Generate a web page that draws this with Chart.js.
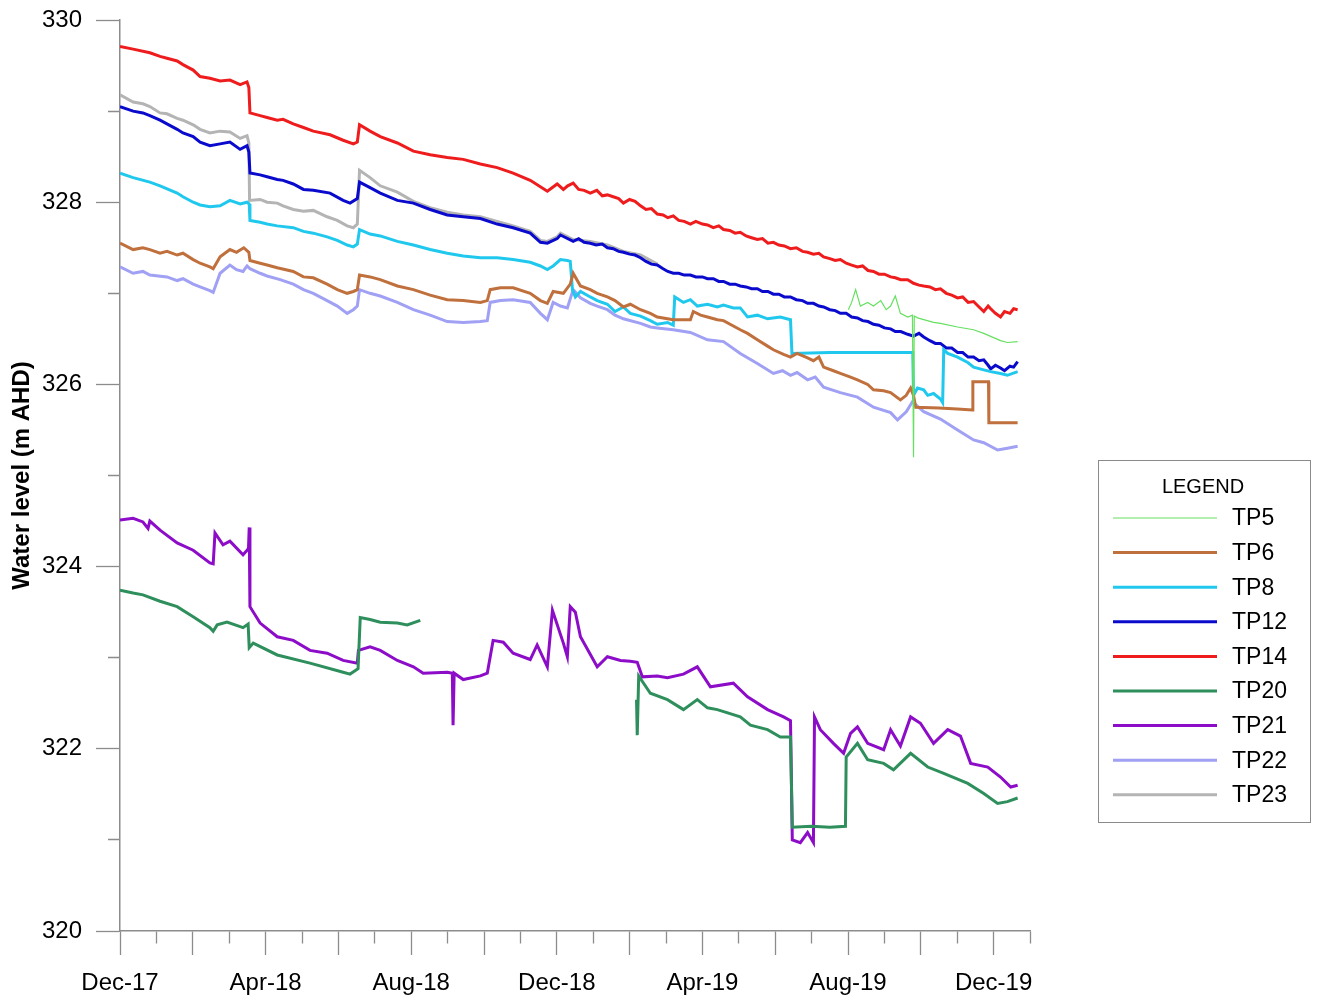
<!DOCTYPE html>
<html>
<head>
<meta charset="utf-8">
<script src="https://cdn.jsdelivr.net/npm/chart.js@4.4.1/dist/chart.umd.min.js"></script>
<style>
  html, body { margin: 0; padding: 0; background: #ffffff; }
  #wrap { width: 1318px; height: 1000px; position: relative; }
</style>
</head>
<body>
<div id="wrap"><canvas id="c" width="1318" height="1000"></canvas></div>
<script>
// ---------- DATA (x = months since Dec-2017, y = water level m AHD) ----------
const seriesNames = ['TP5','TP6','TP8','TP12','TP14','TP20','TP21','TP22','TP23'];
const xTickLabels = ['Dec-17','Apr-18','Aug-18','Dec-18','Apr-19','Aug-19','Dec-19'];
const xLabelEvery = 4;

const tp5X = [20.01,20.10,20.21,20.34,20.54,20.70,20.90,21.05,21.17,21.30,21.44,21.64,21.77,21.80,21.82,21.91,22.35,22.54,23.01,23.45,23.73,24.19,24.38,24.66];
const tp5Y = [326.82,326.90,327.04,326.86,326.90,326.86,326.92,326.82,326.86,326.97,326.78,326.74,326.76,325.20,326.75,326.73,326.68,326.67,326.63,326.60,326.56,326.48,326.46,326.47];

const tp6X = [0,0.36,0.63,0.82,1.10,1.29,1.57,1.73,2.01,2.20,2.47,2.56,2.75,3.02,3.20,3.40,3.54,3.57,3.85,4.04,4.32,4.76,5.04,5.31,5.69,5.97,6.24,6.41,6.52,6.58,6.87,7.15,7.62,8.06,8.52,8.99,9.43,9.90,10.09,10.17,10.45,10.80,11.27,11.55,11.74,11.90,12.18,12.37,12.45,12.65,12.92,13.11,13.39,13.60,13.83,14.02,14.30,14.57,14.76,15.04,15.20,15.67,15.75,15.95,16.14,16.41,16.58,17.04,17.24,17.51,17.79,17.95,18.23,18.42,18.60,18.89,19.05,19.20,19.33,19.60,19.79,20.07,20.26,20.54,20.70,20.98,21.17,21.44,21.60,21.72,21.80,21.86,22.50,23.00,23.42,23.43,23.86,23.87,24.66];
const tp6Y = [327.55,327.48,327.50,327.48,327.44,327.46,327.42,327.44,327.37,327.33,327.29,327.27,327.40,327.48,327.45,327.50,327.45,327.36,327.33,327.31,327.28,327.24,327.18,327.17,327.10,327.04,327.00,327.02,327.04,327.20,327.18,327.15,327.08,327.04,326.98,326.93,326.92,326.90,326.92,327.04,327.06,327.06,327.00,326.92,326.89,327.02,327.00,327.10,327.22,327.08,327.04,327.00,326.96,326.92,326.85,326.88,326.82,326.78,326.74,326.72,326.71,326.71,326.80,326.76,326.74,326.71,326.70,326.60,326.56,326.49,326.42,326.38,326.33,326.30,326.34,326.29,326.26,326.30,326.19,326.15,326.12,326.08,326.05,326.00,325.94,325.93,325.91,325.83,325.88,325.96,325.88,325.75,325.74,325.73,325.72,326.03,326.03,325.58,325.58];

const tp8X = [0,0.36,0.82,1.10,1.57,1.73,2.01,2.20,2.47,2.75,3.02,3.30,3.49,3.55,3.57,3.85,4.04,4.32,4.76,5.04,5.31,5.69,5.97,6.24,6.41,6.52,6.58,6.87,7.15,7.62,8.06,8.52,8.99,9.43,9.90,10.36,10.80,11.27,11.55,11.74,11.90,12.10,12.29,12.37,12.43,12.51,12.65,12.92,13.11,13.39,13.60,13.83,14.02,14.30,14.57,14.76,15.04,15.20,15.24,15.48,15.67,15.86,16.14,16.41,16.58,16.85,17.04,17.24,17.51,17.79,18.14,18.42,18.46,19.50,20.50,21.78,21.80,21.91,22.08,22.19,22.35,22.54,22.60,22.63,22.74,23.01,23.29,23.45,23.73,23.92,24.19,24.38,24.66];
const tp8Y = [328.32,328.27,328.22,328.18,328.10,328.06,328.00,327.97,327.95,327.96,328.02,327.98,328.00,327.98,327.80,327.78,327.76,327.74,327.72,327.68,327.66,327.62,327.58,327.53,327.51,327.54,327.70,327.65,327.63,327.57,327.53,327.48,327.44,327.41,327.39,327.39,327.37,327.34,327.30,327.26,327.30,327.37,327.36,327.35,327.04,326.96,327.02,326.96,326.92,326.88,326.80,326.85,326.78,326.75,326.70,326.66,326.68,326.65,326.96,326.90,326.93,326.86,326.88,326.85,326.87,326.84,326.84,326.74,326.76,326.72,326.74,326.71,326.34,326.35,326.35,326.35,325.88,325.96,325.94,325.88,325.90,325.84,325.80,326.38,326.34,326.30,326.24,326.19,326.16,326.14,326.12,326.10,326.14];

const tp12X = [0,0.36,0.63,0.82,1.10,1.29,1.57,1.73,2.01,2.20,2.47,2.75,3.02,3.30,3.49,3.54,3.57,3.85,4.04,4.32,4.48,4.76,5.04,5.31,5.77,6.13,6.32,6.52,6.58,6.87,7.15,7.62,8.06,8.52,8.99,9.43,9.90,10.36,10.80,11.27,11.55,11.74,12.01,12.10,12.45,12.60,12.75,12.92,13.08,13.25,13.39,13.55,13.70,13.83,14.00,14.15,14.30,14.45,14.60,14.76,14.92,15.05,15.20,15.35,15.50,15.67,15.82,16.00,16.14,16.30,16.45,16.58,16.75,16.90,17.04,17.20,17.35,17.51,17.65,17.80,17.95,18.10,18.25,18.42,18.58,18.75,18.89,19.05,19.20,19.33,19.50,19.65,19.79,19.95,20.10,20.26,20.40,20.55,20.70,20.85,21.00,21.17,21.30,21.45,21.64,21.80,21.95,22.08,22.25,22.40,22.54,22.70,22.85,23.01,23.15,23.30,23.45,23.60,23.73,23.85,23.92,24.05,24.19,24.30,24.45,24.55,24.66];
const tp12Y = [329.05,329.00,328.98,328.95,328.90,328.86,328.80,328.76,328.72,328.66,328.62,328.64,328.66,328.58,328.62,328.55,328.32,328.30,328.28,328.25,328.24,328.20,328.14,328.13,328.10,328.02,327.99,328.04,328.22,328.16,328.10,328.02,327.99,327.92,327.86,327.84,327.82,327.76,327.72,327.66,327.56,327.55,327.60,327.64,327.57,327.60,327.56,327.55,327.53,327.54,327.50,327.49,327.46,327.45,327.43,327.42,327.39,327.35,327.32,327.31,327.27,327.24,327.22,327.22,327.20,327.20,327.18,327.18,327.16,327.16,327.13,327.13,327.10,327.10,327.08,327.07,327.05,327.05,327.02,327.02,326.99,326.99,326.96,326.96,326.93,326.92,326.89,326.89,326.86,326.85,326.82,326.81,326.78,326.78,326.74,326.73,326.70,326.69,326.66,326.65,326.62,326.61,326.58,326.58,326.55,326.53,326.56,326.52,326.48,326.45,326.45,326.40,326.40,326.35,326.35,326.30,326.30,326.26,326.27,326.21,326.17,326.21,326.18,326.15,326.20,326.19,326.25];

const tp14X = [0,0.36,0.82,1.10,1.29,1.57,1.73,2.01,2.20,2.47,2.75,3.02,3.30,3.49,3.54,3.57,3.85,4.04,4.32,4.48,4.76,5.04,5.31,5.77,6.13,6.41,6.52,6.58,6.87,7.15,7.62,8.06,8.52,8.99,9.43,9.90,10.36,10.80,11.27,11.74,12.01,12.18,12.30,12.45,12.60,12.75,12.92,13.10,13.25,13.39,13.55,13.70,13.83,14.00,14.15,14.30,14.45,14.60,14.76,14.92,15.05,15.20,15.35,15.50,15.67,15.82,16.00,16.14,16.30,16.45,16.58,16.75,16.90,17.04,17.20,17.35,17.51,17.65,17.80,17.95,18.10,18.25,18.42,18.58,18.75,18.89,19.05,19.20,19.33,19.50,19.65,19.79,19.95,20.10,20.26,20.40,20.55,20.70,20.85,21.00,21.17,21.30,21.45,21.64,21.80,21.95,22.08,22.25,22.40,22.54,22.70,22.85,23.01,23.15,23.30,23.45,23.60,23.73,23.85,23.92,24.05,24.19,24.30,24.45,24.55,24.66];
const tp14Y = [329.71,329.68,329.64,329.60,329.58,329.55,329.51,329.45,329.38,329.36,329.33,329.34,329.29,329.32,329.26,328.98,328.95,328.93,328.90,328.91,328.86,328.82,328.78,328.74,328.68,328.64,328.66,328.85,328.78,328.72,328.65,328.56,328.52,328.49,328.47,328.42,328.38,328.32,328.24,328.12,328.20,328.14,328.18,328.21,328.14,328.13,328.10,328.13,328.07,328.08,328.06,328.04,327.99,328.03,328.01,327.96,327.92,327.93,327.87,327.86,327.83,327.85,327.80,327.79,327.76,327.79,327.76,327.75,327.72,327.74,327.70,327.69,327.66,327.67,327.63,327.61,327.59,327.60,327.55,327.56,327.53,327.52,327.49,327.50,327.46,327.45,327.43,327.44,327.40,327.38,327.36,327.37,327.33,327.31,327.29,327.30,327.25,327.24,327.21,327.21,327.18,327.17,327.15,327.15,327.11,327.09,327.08,327.07,327.04,327.05,327.00,326.98,326.95,326.96,326.90,326.91,326.85,326.80,326.86,326.83,326.78,326.74,326.80,326.78,326.83,326.82];

const tp20X = [0,0.36,0.63,1.10,1.57,2.01,2.47,2.56,2.67,2.94,3.38,3.52,3.55,3.66,4.32,5.22,6.13,6.32,6.54,6.60,6.87,7.15,7.62,7.89,8.25,11.00,14.19,14.21,14.25,14.57,15.04,15.48,15.86,16.14,16.41,17.04,17.32,17.79,18.14,18.42,18.47,19.00,19.50,19.93,19.95,20.26,20.54,20.98,21.25,21.72,22.19,22.63,23.29,23.73,24.11,24.38,24.66];
const tp20Y = [323.74,323.71,323.69,323.62,323.56,323.45,323.33,323.29,323.36,323.39,323.33,323.37,323.11,323.16,323.03,322.94,322.84,322.82,322.88,323.44,323.42,323.39,323.38,323.36,323.41,null,322.54,322.15,322.80,322.61,322.54,322.43,322.54,322.45,322.43,322.35,322.26,322.21,322.13,322.13,321.14,321.15,321.14,321.15,321.91,322.06,321.88,321.84,321.77,321.95,321.80,321.73,321.62,321.51,321.40,321.42,321.46];

const tp21X = [0,0.36,0.63,0.77,0.82,1.10,1.57,2.01,2.47,2.56,2.61,2.83,3.02,3.38,3.49,3.53,3.55,3.57,3.85,4.32,4.76,5.22,5.69,6.13,6.52,6.55,6.87,7.15,7.62,8.06,8.33,8.99,9.13,9.15,9.18,9.43,9.90,10.09,10.25,10.53,10.80,11.27,11.46,11.74,11.88,12.18,12.29,12.37,12.51,12.65,13.11,13.39,13.75,14.02,14.21,14.35,14.76,15.04,15.48,15.86,16.22,16.85,17.24,17.79,18.23,18.42,18.47,18.69,18.89,19.05,19.08,19.24,19.60,19.88,20.07,20.26,20.54,20.98,21.17,21.44,21.72,21.99,22.35,22.74,23.09,23.37,23.84,24.19,24.47,24.66];
const tp21Y = [324.51,324.53,324.49,324.42,324.50,324.40,324.26,324.18,324.04,324.03,324.37,324.24,324.28,324.13,324.18,324.20,324.43,323.56,323.38,323.23,323.19,323.08,323.05,322.97,322.94,323.08,323.12,323.08,322.97,322.90,322.83,322.84,322.83,322.26,322.83,322.76,322.80,322.83,323.19,323.17,323.05,322.98,323.14,322.90,323.52,323.16,323.01,323.56,323.50,323.23,322.90,323.01,322.97,322.96,322.95,322.79,322.80,322.78,322.82,322.90,322.68,322.72,322.57,322.43,322.35,322.31,321.00,320.97,321.08,320.97,322.35,322.21,322.06,321.95,322.17,322.24,322.06,321.99,322.21,322.03,322.35,322.28,322.06,322.21,322.14,321.84,321.80,321.69,321.58,321.60];

const tp22X = [0,0.36,0.63,0.82,1.29,1.57,1.73,2.01,2.20,2.47,2.56,2.75,3.02,3.20,3.38,3.49,3.57,3.85,4.04,4.40,4.76,5.04,5.31,5.69,5.97,6.24,6.41,6.52,6.58,6.87,7.15,7.62,8.06,8.52,8.99,9.43,9.90,10.09,10.17,10.45,10.80,11.27,11.55,11.74,11.90,12.10,12.29,12.45,12.65,12.92,13.11,13.39,13.60,13.83,14.30,14.57,14.76,15.20,15.67,16.14,16.58,17.04,17.51,17.95,18.20,18.42,18.60,18.89,19.10,19.33,19.79,20.26,20.70,21.17,21.36,21.60,21.77,22.08,22.54,23.01,23.45,23.73,24.11,24.38,24.66];
const tp22Y = [327.29,327.22,327.24,327.20,327.18,327.14,327.16,327.10,327.07,327.03,327.01,327.22,327.31,327.26,327.24,327.30,327.27,327.22,327.19,327.15,327.10,327.04,327.00,326.92,326.86,326.78,326.82,326.86,327.04,327.00,326.97,326.90,326.82,326.76,326.69,326.68,326.69,326.70,326.90,326.92,326.93,326.90,326.78,326.71,326.90,326.86,326.84,327.04,326.95,326.89,326.86,326.82,326.76,326.72,326.67,326.63,326.62,326.60,326.57,326.49,326.47,326.34,326.23,326.12,326.15,326.10,326.13,326.05,326.08,325.97,325.91,325.86,325.75,325.69,325.61,325.70,325.81,325.70,325.62,325.50,325.39,325.36,325.28,325.30,325.32];

const tp23X = [0,0.36,0.63,0.82,1.10,1.29,1.57,1.73,2.01,2.20,2.47,2.75,3.02,3.30,3.49,3.54,3.56,3.85,4.04,4.32,4.48,4.76,5.04,5.31,5.69,5.97,6.24,6.41,6.52,6.58,6.87,7.15,7.62,8.06,8.52,8.99,9.43,9.90,10.36,10.80,11.27,11.55,11.74,12.01,12.10,12.45,12.92,13.39,13.83,14.30,14.76];
const tp23Y = [329.18,329.10,329.08,329.05,328.98,328.97,328.92,328.90,328.85,328.80,328.76,328.78,328.77,328.70,328.73,328.65,328.02,328.03,328.00,327.99,327.96,327.92,327.90,327.91,327.84,327.80,327.74,327.72,327.76,328.35,328.27,328.18,328.11,328.01,327.94,327.89,327.86,327.84,327.79,327.74,327.68,327.58,327.57,327.62,327.66,327.59,327.57,327.53,327.46,327.42,327.32];

// ---------- CHART ----------
const FONT = "'Liberation Sans', Arial, Helvetica, sans-serif";
const colors = ['#66e060','#c0703c','#20c8ee','#0a0acc','#ee1c1c','#2e8f5c','#8c0cc8','#a0a0f4','#b4b4b4'];
const widths = [1.2,3,3,3,3,3,3,3,3];
const xs = [tp5X,tp6X,tp8X,tp12X,tp14X,tp20X,tp21X,tp22X,tp23X];
const ys = [tp5Y,tp6Y,tp8Y,tp12Y,tp14Y,tp20Y,tp21Y,tp22Y,tp23Y];

const datasets = seriesNames.map((name, i) => ({
  label: name,
  data: xs[i].map((x, k) => ({ x: x, y: ys[i][k] })),
  borderColor: colors[i],
  backgroundColor: colors[i],
  borderWidth: widths[i],
  pointRadius: 0,
  tension: 0,
  spanGaps: false,
  fill: false
}));

const boxLegend = {
  id: 'boxLegend',
  afterDraw(chart, args, opts) {
    const ctx = chart.ctx;
    ctx.save();
    ctx.strokeStyle = '#8a8a8a';
    ctx.lineWidth = 1;
    ctx.strokeRect(opts.left + 0.5, opts.top + 0.5, opts.width, opts.height);
    ctx.fillStyle = '#000';
    ctx.textBaseline = 'middle';
    ctx.textAlign = 'center';
    ctx.font = '20px ' + FONT;
    ctx.fillText(opts.title, opts.left + opts.width / 2 - 1, opts.top + 27);
    ctx.textAlign = 'left';
    ctx.font = '23px ' + FONT;
    chart.data.datasets.forEach((ds, i) => {
      const y = opts.top + 58 + i * 34.6;
      ctx.strokeStyle = ds.borderColor;
      ctx.lineWidth = ds.borderWidth;
      ctx.beginPath();
      ctx.moveTo(opts.left + 15, y);
      ctx.lineTo(opts.left + 119, y);
      ctx.stroke();
      ctx.fillText(ds.label, opts.left + 134, y + 1);
    });
    ctx.restore();
  }
};

new Chart(document.getElementById('c'), {
  type: 'line',
  data: { datasets: datasets },
  plugins: [boxLegend],
  options: {
    responsive: false,
    animation: false,
    devicePixelRatio: 1,
    layout: { padding: { left: 0, right: 288, top: 20, bottom: 0 } },
    plugins: {
      legend: { display: false },
      tooltip: { enabled: false },
      boxLegend: { left: 1098, top: 460, width: 212, height: 362, title: 'LEGEND' }
    },
    scales: {
      x: {
        type: 'linear',
        min: 0,
        max: 25,
        afterFit: s => { s.height = 69; s.paddingLeft = 0; s.paddingRight = 0; },
        border: { color: '#8c8c8c', width: 1.5 },
        grid: {
          drawOnChartArea: false,
          tickLength: 24,
          tickColor: '#8c8c8c',
          tickWidth: 1.3,
          tickBorderDash: c => (c.tick && c.tick.value % 2 === 1) ? [12, 100] : []
        },
        ticks: {
          stepSize: 1,
          autoSkip: false,
          maxRotation: 0,
          padding: 14,
          color: '#000',
          font: { family: FONT, size: 24 },
          callback: v => (v % xLabelEvery === 0) ? xTickLabels[v / xLabelEvery] : ''
        }
      },
      y: {
        type: 'linear',
        min: 320,
        max: 330,
        afterFit: s => { s.width = 120; s.paddingTop = 0; s.paddingBottom = 0; },
        border: { color: '#8c8c8c', width: 1.5 },
        grid: {
          drawOnChartArea: false,
          tickLength: 24,
          tickColor: '#8c8c8c',
          tickWidth: 1.3,
          tickBorderDash: c => (c.tick && Math.abs(c.tick.value % 2) === 1) ? [0, 12, 12, 0] : []
        },
        ticks: {
          stepSize: 1,
          autoSkip: false,
          padding: 14,
          color: '#000',
          font: { family: FONT, size: 24 },
          callback: v => (v % 2 === 0) ? String(v) : ''
        },
        title: {
          display: true,
          text: 'Water level (m AHD)',
          color: '#000',
          font: { family: FONT, size: 24, weight: 'bold' },
          padding: { top: 8, bottom: 0 }
        }
      }
    }
  }
});
</script>
</body>
</html>
